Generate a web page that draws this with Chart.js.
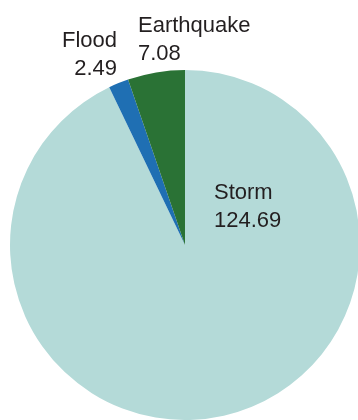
<!DOCTYPE html>
<html>
<head>
<meta charset="utf-8">
<script src="https://cdn.jsdelivr.net/npm/chart.js@4/dist/chart.umd.min.js"></script>
<style>
  html, body { margin: 0; padding: 0; background: #fff; overflow: hidden; }
  #wrap { width: 370px; height: 420px; }
</style>
</head>
<body>
<div id="wrap"><canvas id="myChart" width="370" height="420"></canvas></div>
<script>
// data
var categories = ['Storm', 'Flood', 'Earthquake'];
var values = [124.69, 2.49, 7.08];
var valueLabels = ['124.69', '2.49', '7.08'];
var sliceColors = ['#b4dad8', '#1f6fb3', '#2a7235'];

// where each label sits, relative to the pie centre (px), and its alignment
var labelPlace = [
  { dx: 29, dy: -46, align: 'left' },
  { dx: -68, dy: -198, align: 'right' },
  { dx: -47, dy: -213, align: 'left' }
];

var pieLabels = {
  id: 'pieLabels',
  afterDatasetsDraw: function (chart) {
    var ctx = chart.ctx;
    var arcs = chart.getDatasetMeta(0).data;
    ctx.save();
    ctx.font = '22px "Liberation Sans", Arial, sans-serif';
    ctx.fillStyle = '#231f20';
    ctx.textBaseline = 'alphabetic';
    arcs.forEach(function (arc, i) {
      var p = labelPlace[i];
      var x = arc.x + p.dx;
      var y = arc.y + p.dy;
      ctx.textAlign = p.align;
      ctx.fillText(categories[i], x, y);
      ctx.fillText(valueLabels[i], x, y + 28);
    });
    ctx.restore();
  }
};

var ctx = document.getElementById('myChart').getContext('2d');
var myChart = new Chart(ctx, {
  type: 'pie',
  data: {
    labels: categories,
    datasets: [{
      data: values,
      backgroundColor: sliceColors,
      borderWidth: 0
    }]
  },
  options: {
    responsive: false,
    animation: false,
    layout: { padding: { top: 70, left: 10, right: 10, bottom: 0 } },
    plugins: {
      legend: { display: false },
      tooltip: { enabled: false }
    }
  },
  plugins: [pieLabels]
});
</script>
</body>
</html>
